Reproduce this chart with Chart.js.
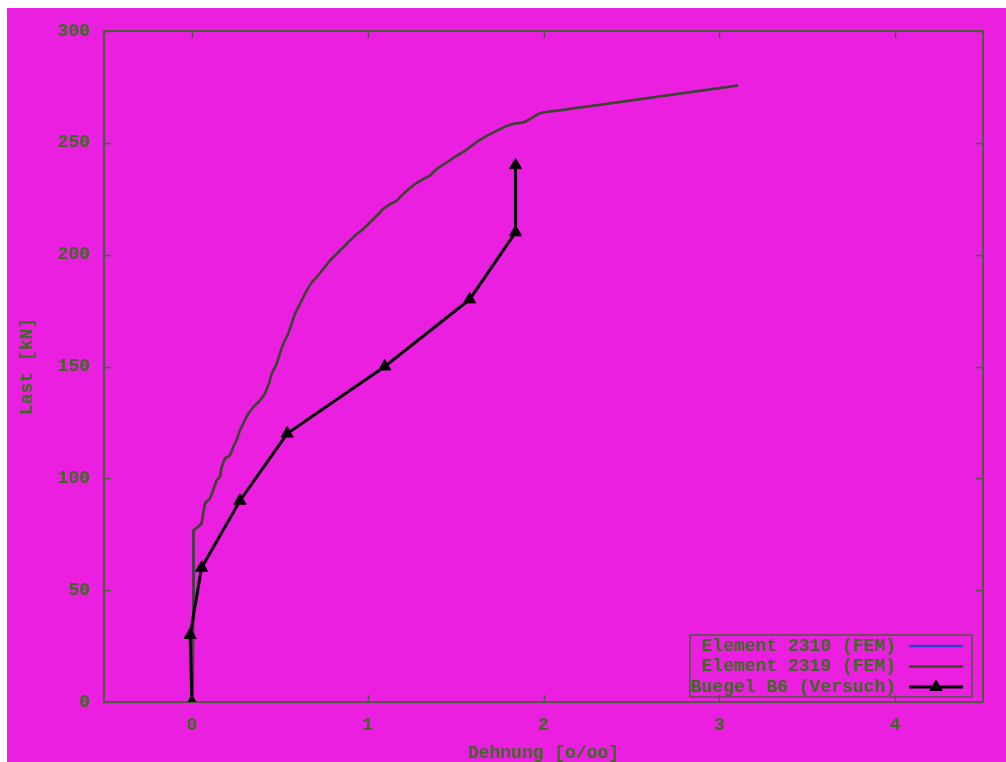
<!DOCTYPE html>
<html>
<head>
<meta charset="utf-8">
<title>Last-Dehnung</title>
<script src="https://cdn.jsdelivr.net/npm/chart.js@4/dist/chart.umd.min.js"></script>
<style>
  html, body { margin: 0; padding: 0; background: #ffffff; }
  #wrap { position: absolute; left: 7px; top: 8px; width: 999px; height: 754px; background: #ea1fe0; }
  canvas { display: block; }
</style>
</head>
<body>
<div id="wrap"><canvas id="c" width="999" height="754"></canvas></div>
<script>
// FEM curve (strain in o/oo, load in kN)
const strainFem = [
  0.005, 0.007, 0.007, 0.011, 0.035, 0.055, 0.064, 0.074, 0.102, 0.121,
  0.140, 0.159, 0.169, 0.187, 0.216, 0.235, 0.254, 0.273, 0.301, 0.320,
  0.349, 0.387, 0.415, 0.438, 0.453, 0.482, 0.500, 0.519, 0.548, 0.567,
  0.586, 0.605, 0.624, 0.653, 0.681, 0.709, 0.747, 0.785, 0.823, 0.861,
  0.899, 0.937, 0.975, 1.013, 1.051, 1.088, 1.127, 1.165, 1.183, 1.222,
  1.269, 1.316, 1.354, 1.392, 1.449, 1.506, 1.553, 1.592, 1.629, 1.677,
  1.734, 1.791, 1.838, 1.885, 1.923, 1.961, 1.990, 2.037, 2.094, 2.208,
  2.322, 2.606, 3.107
];
const loadFem = [
  0, 36.6, 63.4, 76.8, 78.3, 79.8, 84.2, 88.7, 90.9, 94.6,
  99.1, 100.6, 105.0, 108.8, 110.3, 114.0, 117.0, 121.4, 125.9, 128.9,
  131.8, 134.8, 137.8, 142.3, 146.7, 151.2, 155.7, 160.1, 164.6, 169.1,
  173.5, 176.5, 179.5, 183.9, 187.6, 189.9, 193.6, 197.3, 200.3, 203.3,
  206.3, 209.2, 211.5, 214.4, 217.4, 220.4, 222.6, 224.1, 225.6, 228.6,
  231.6, 233.8, 235.3, 238.3, 241.2, 244.2, 246.4, 248.7, 250.9, 253.1,
  255.4, 257.6, 258.6, 259.1, 260.6, 262.5, 263.5, 264.0, 264.6, 265.8,
  267.0, 270.2, 275.6
];

// Measured stirrup strain (test)
const strainTest = [0, -0.01, 0.055, 0.273, 0.542, 1.097, 1.58, 1.841, 1.841];
const loadTest   = [0, 30, 60, 90, 120, 150, 180, 210, 240];

const xTicks = [0, 1, 2, 3, 4];
const yTicks = [0, 50, 100, 150, 200, 250, 300];
const seriesLabels = ['Element 2310 (FEM)', 'Element 2319 (FEM)', 'Buegel B6 (Versuch)'];
const xTitle = 'Dehnung [o/oo]';
const yTitle = 'Last [kN]';

const toPoints = (xs, ys) => xs.map((v, i) => ({ x: v, y: ys[i] }));

const frameColor = '#4e5a3a';
const textColor = '#3a6b1f';
const monoFont = { family: "'Liberation Mono', 'DejaVu Sans Mono', monospace", size: 18, weight: 'bold', lineHeight: 1 };

// gnuplot-style frame with inward ticks on all four sides
const frameAndTicks = {
  id: 'frameAndTicks',
  beforeDatasetsDraw(chart) {
    const { ctx, chartArea: a, scales: { x, y } } = chart;
    const t = 7;
    ctx.save();
    ctx.strokeStyle = frameColor;
    ctx.lineWidth = 2;
    ctx.strokeRect(a.left, a.top, a.right - a.left, a.bottom - a.top);
    ctx.beginPath();
    xTicks.forEach(v => {
      const px = Math.round(x.getPixelForValue(v)) + 0.5;
      ctx.moveTo(px, a.bottom); ctx.lineTo(px, a.bottom - t);
      ctx.moveTo(px, a.top); ctx.lineTo(px, a.top + t);
    });
    yTicks.forEach(v => {
      const py = Math.round(y.getPixelForValue(v)) + 0.5;
      ctx.moveTo(a.left, py); ctx.lineTo(a.left + t, py);
      ctx.moveTo(a.right, py); ctx.lineTo(a.right - t, py);
    });
    ctx.lineWidth = 1.5;
    ctx.stroke();
    ctx.restore();
  }
};

// boxed key in the lower right corner of the plot
const boxedKey = {
  id: 'boxedKey',
  afterDatasetsDraw(chart) {
    const { ctx, chartArea: a } = chart;
    const boxRight = a.right - 11, boxBottom = a.bottom - 5;
    const boxLeft = a.left + 586, boxTop = boxBottom - 62;
    const textRight = boxRight - 76;
    const sampleL = boxRight - 63, sampleR = boxRight - 9;
    ctx.save();
    ctx.strokeStyle = frameColor;
    ctx.lineWidth = 1.5;
    ctx.strokeRect(boxLeft, boxTop, boxRight - boxLeft, boxBottom - boxTop);
    ctx.font = `bold ${monoFont.size}px ${monoFont.family}`;
    ctx.textAlign = 'right';
    ctx.textBaseline = 'middle';
    chart.data.datasets.forEach((ds, i) => {
      const cy = boxTop + 11 + i * 20.5;
      ctx.fillStyle = textColor;
      ctx.fillText(ds.label, textRight, cy);
      ctx.strokeStyle = ds.borderColor;
      ctx.lineWidth = ds.keyWidth;
      ctx.beginPath();
      ctx.moveTo(sampleL, cy); ctx.lineTo(sampleR, cy);
      ctx.stroke();
      if (ds.pointRadius > 0) {
        ctx.fillStyle = ds.pointBackgroundColor;
        ctx.strokeStyle = ds.pointBorderColor;
        ctx.lineWidth = 1;
        Chart.helpers.drawPoint(ctx, {
          pointStyle: ds.pointStyle, radius: ds.pointRadius, borderWidth: 1, rotation: 0
        }, (sampleL + sampleR) / 2, cy);
      }
    });
    ctx.restore();
  }
};

new Chart(document.getElementById('c'), {
  type: 'scatter',
  data: {
    datasets: [
      {
        label: seriesLabels[0],
        data: toPoints(strainFem, loadFem),
        showLine: true, borderColor: '#3440c8', borderWidth: 2, keyWidth: 2.5,
        pointRadius: 0, order: 2
      },
      {
        label: seriesLabels[1],
        data: toPoints(strainFem, loadFem),
        showLine: true, borderColor: '#3d4529', borderWidth: 2.5, keyWidth: 2.5,
        pointRadius: 0, order: 1
      },
      {
        label: seriesLabels[2],
        data: toPoints(strainTest, loadTest),
        showLine: true, borderColor: '#000000', borderWidth: 3, keyWidth: 3,
        pointStyle: 'triangle', pointRadius: 7,
        pointBackgroundColor: '#000000', pointBorderColor: '#000000', pointBorderWidth: 1,
        order: 0
      }
    ]
  },
  options: {
    responsive: false,
    animation: false,
    layout: { padding: { left: 0, top: 21, right: 23, bottom: 0 } },
    plugins: { legend: { display: false }, tooltip: { enabled: false } },
    elements: { line: { tension: 0 } },
    scales: {
      x: {
        type: 'linear', min: -0.5, max: 4.5,
        grid: { display: false, drawTicks: false },
        border: { display: false },
        afterBuildTicks: s => { s.ticks = xTicks.map(v => ({ value: v })); },
        afterFit: s => { s.height = 60; },
        ticks: { color: textColor, font: monoFont, padding: 14, maxRotation: 0 },
        title: { display: true, text: xTitle, color: textColor, font: monoFont, padding: { top: 0, bottom: 0 } }
      },
      y: {
        type: 'linear', min: 0, max: 300,
        grid: { display: false, drawTicks: false },
        border: { display: false },
        afterBuildTicks: s => { s.ticks = yTicks.map(v => ({ value: v })); },
        afterFit: s => { s.width = 97; },
        ticks: { color: textColor, font: monoFont, padding: 14 },
        title: { display: true, text: yTitle, color: textColor, font: monoFont, padding: { top: 11, bottom: 0 } }
      }
    }
  },
  plugins: [frameAndTicks, boxedKey]
});
</script>
</body>
</html>
